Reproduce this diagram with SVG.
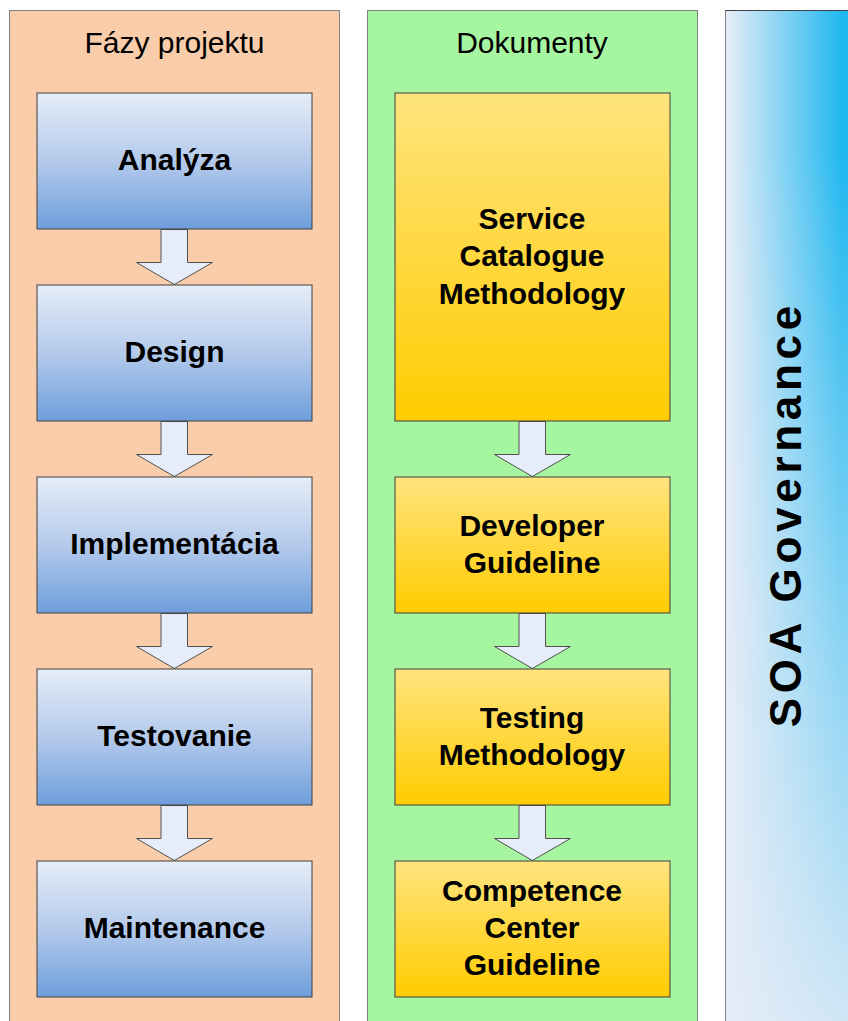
<svg xmlns="http://www.w3.org/2000/svg" width="848" height="1021" viewBox="0 0 848 1021">
<defs>
<linearGradient id="gBlue" x1="0" y1="0" x2="0" y2="1">
<stop offset="0" stop-color="#E5EDF8"/>
<stop offset="0.5" stop-color="#B4CAEB"/>
<stop offset="1" stop-color="#6E9EDC"/>
</linearGradient>
<linearGradient id="gYellow" x1="0" y1="0" x2="0" y2="1">
<stop offset="0" stop-color="#FFE47E"/>
<stop offset="1" stop-color="#FFCC00"/>
</linearGradient>
<linearGradient id="gGov" gradientUnits="userSpaceOnUse" x1="728" y1="0" x2="842" y2="0">
<stop offset="0" stop-color="#E4ECF7"/>
<stop offset="1" stop-color="#20B8F0"/>
</linearGradient>
<linearGradient id="gGovFade" gradientUnits="userSpaceOnUse" x1="0" y1="150" x2="0" y2="1021">
<stop offset="0" stop-color="#E4ECF7" stop-opacity="0"/>
<stop offset="0.517" stop-color="#E4ECF7" stop-opacity="0.5"/>
<stop offset="1" stop-color="#E4ECF7" stop-opacity="0.9"/>
</linearGradient>
<style>
.panel{stroke:#7F7F7F;stroke-width:1}
.blue{fill:url(#gBlue);stroke:#3F3F3F;stroke-width:1}
.yellow{fill:url(#gYellow);stroke:#3F3F3F;stroke-width:1}
.arrow{fill:#E6ECF8;stroke:#505050;stroke-width:1;stroke-linejoin:miter}
.title{font-family:"Liberation Sans",Arial,sans-serif;font-size:30px;fill:#000;text-anchor:middle}
.lbl{font-family:"Liberation Sans",Arial,sans-serif;font-size:30px;font-weight:bold;fill:#000;text-anchor:middle}
.gov{font-family:"Liberation Sans",Arial,sans-serif;font-size:44px;font-weight:bold;fill:#000;text-anchor:middle;letter-spacing:4.7px}
</style>
</defs>
<rect width="848" height="1021" fill="#FFFFFF"/>

<g id="panel-fazy">
<rect class="panel" x="9.5" y="10.5" width="330" height="1020" fill="#F9CDA9"/>
<text class="title" x="174.5" y="53">Fázy projektu</text>
</g>
<g id="panel-dokumenty">
<rect class="panel" x="367.5" y="10.5" width="330" height="1020" fill="#A6F5A0"/>
<text class="title" x="532" y="53">Dokumenty</text>
</g>
<g id="panel-governance">
<rect x="725.5" y="10.5" width="140" height="1020" fill="url(#gGov)"/>
<rect x="725.5" y="10.5" width="140" height="1020" fill="url(#gGovFade)" stroke="#7F7F7F" stroke-width="1"/>
<line x1="725.5" y1="10.5" x2="848" y2="10.5" stroke="#404040" stroke-width="1"/>
<text class="gov" transform="translate(801,516.5) rotate(-90)" x="2.35" y="0">SOA Governance</text>
</g>

<g id="connectors">
<path class="arrow" d="M161,229.5 L187.5,229.5 L187.5,262.5 L212.5,262.5 L174.3,284.5 L136.5,262.5 L161,262.5 Z"/>
<path class="arrow" d="M161,421.5 L187.5,421.5 L187.5,454.5 L212.5,454.5 L174.3,476.5 L136.5,454.5 L161,454.5 Z"/>
<path class="arrow" d="M161,613.5 L187.5,613.5 L187.5,646.5 L212.5,646.5 L174.3,668.5 L136.5,646.5 L161,646.5 Z"/>
<path class="arrow" d="M161,805.5 L187.5,805.5 L187.5,838.5 L212.5,838.5 L174.3,860.5 L136.5,838.5 L161,838.5 Z"/>
<path class="arrow" d="M519,421.5 L545.5,421.5 L545.5,454.5 L570.5,454.5 L532.3,476.5 L494.5,454.5 L519,454.5 Z"/>
<path class="arrow" d="M519,613.5 L545.5,613.5 L545.5,646.5 L570.5,646.5 L532.3,668.5 L494.5,646.5 L519,646.5 Z"/>
<path class="arrow" d="M519,805.5 L545.5,805.5 L545.5,838.5 L570.5,838.5 L532.3,860.5 L494.5,838.5 L519,838.5 Z"/>
</g>

<g id="analyza">
<rect class="blue" x="37" y="93" width="275" height="136"/>
<text class="lbl" x="174.5" y="170">Analýza</text>
</g>
<g id="design">
<rect class="blue" x="37" y="285" width="275" height="136"/>
<text class="lbl" x="174.5" y="362">Design</text>
</g>
<g id="implementacia">
<rect class="blue" x="37" y="477" width="275" height="136"/>
<text class="lbl" x="174.5" y="554">Implementácia</text>
</g>
<g id="testovanie">
<rect class="blue" x="37" y="669" width="275" height="136"/>
<text class="lbl" x="174.5" y="746">Testovanie</text>
</g>
<g id="maintenance">
<rect class="blue" x="37" y="861" width="275" height="136"/>
<text class="lbl" x="174.5" y="938">Maintenance</text>
</g>

<g id="service-catalogue">
<rect class="yellow" x="395" y="93" width="275" height="328"/>
<text class="lbl" x="532" y="228.5">Service</text>
<text class="lbl" x="532" y="266">Catalogue</text>
<text class="lbl" x="532" y="303.5">Methodology</text>
</g>
<g id="developer-guideline">
<rect class="yellow" x="395" y="477" width="275" height="136"/>
<text class="lbl" x="532" y="536">Developer</text>
<text class="lbl" x="532" y="573">Guideline</text>
</g>
<g id="testing-methodology">
<rect class="yellow" x="395" y="669" width="275" height="136"/>
<text class="lbl" x="532" y="728">Testing</text>
<text class="lbl" x="532" y="765">Methodology</text>
</g>
<g id="competence-center">
<rect class="yellow" x="395" y="861" width="275" height="136"/>
<text class="lbl" x="532" y="901">Competence</text>
<text class="lbl" x="532" y="938">Center</text>
<text class="lbl" x="532" y="975">Guideline</text>
</g>
</svg>
